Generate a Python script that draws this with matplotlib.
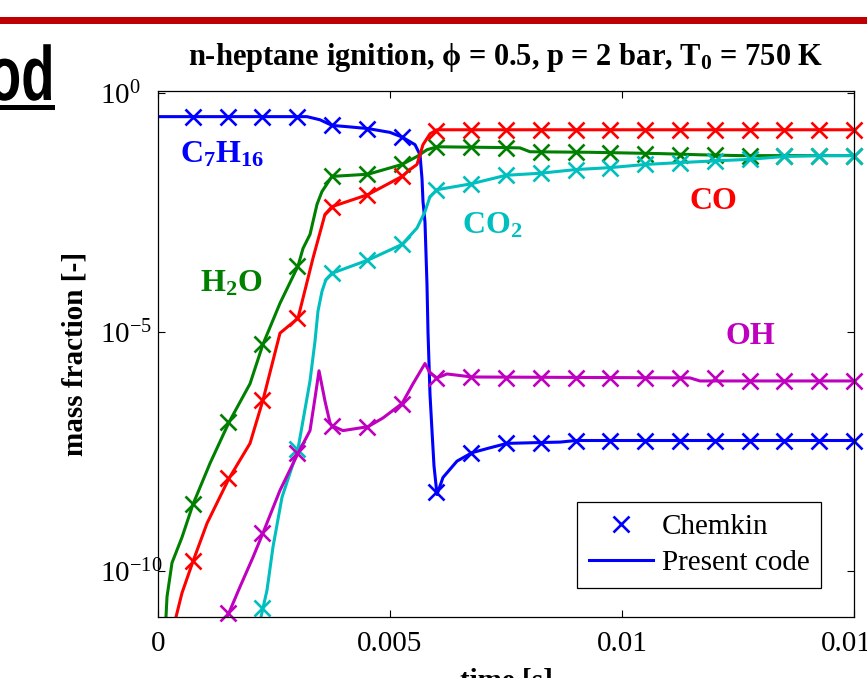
import matplotlib
matplotlib.use('Agg')
import matplotlib.pyplot as plt
from matplotlib.lines import Line2D
from matplotlib.patches import Rectangle, PathPatch
from matplotlib.textpath import TextPath
from matplotlib.font_manager import FontProperties
from matplotlib.transforms import Affine2D, IdentityTransform
from matplotlib.ticker import NullLocator

plt.rcParams['font.family'] = ['Liberation Serif', 'DejaVu Serif']
plt.rcParams['mathtext.fontset'] = 'custom'
plt.rcParams['mathtext.rm'] = 'Liberation Serif'
plt.rcParams['mathtext.bf'] = 'Liberation Serif:bold'
plt.rcParams['mathtext.it'] = 'Liberation Serif:italic'

# ── Chemkin (markers) ──
t_chemkin = [0.00075, 0.0015, 0.00225, 0.003, 0.00375, 0.0045, 0.00525, 0.006, 0.00675, 0.0075,
             0.00825, 0.009, 0.00975, 0.0105, 0.01125, 0.012, 0.01275, 0.0135, 0.01425, 0.015]
ck_c7h16 = [3.2e-1, 3.2e-1, 3.2e-1, 3.2e-1, 2.1e-1, 1.8e-1, 1.2e-1, 4.5e-9, 3.0e-8, 4.7e-8,
            4.9e-8, 5.4e-8, 5.4e-8, 5.4e-8, 5.4e-8, 5.4e-8, 5.4e-8, 5.4e-8, 5.4e-8, 5.4e-8]
ck_co = [1.6e-10, 8.7e-9, 3.8e-7, 1.95e-5, 4.2e-3, 7.5e-3, 1.8e-2, 1.6e-1, 1.7e-1, 1.7e-1,
         1.7e-1, 1.7e-1, 1.7e-1, 1.7e-1, 1.7e-1, 1.7e-1, 1.7e-1, 1.7e-1, 1.7e-1, 1.7e-1]
ck_h2o = [2.5e-9, 1.3e-7, 5.6e-6, 2.4e-4, 1.8e-2, 2.0e-2, 3.2e-2, 7.5e-2, 7.5e-2, 7.2e-2,
          5.9e-2, 5.9e-2, 5.6e-2, 5.4e-2, 5.1e-2, 5.1e-2, 4.9e-2, 4.9e-2, 4.9e-2, 4.9e-2]
ck_co2 = [None, None, 1.7e-11, 3.6e-8, 1.7e-4, 3.2e-4, 6.8e-4, 9.5e-3, 1.26e-2, 1.9e-2,
          2.1e-2, 2.5e-2, 2.75e-2, 3.2e-2, 3.5e-2, 3.8e-2, 4.1e-2, 4.7e-2, 4.9e-2, 4.9e-2]
ck_oh = [None, 1.35e-11, 6.3e-10, 2.9e-8, 1.1e-7, 1.05e-7, 3.2e-7, 1.1e-6, 1.15e-6, 1.1e-6,
         1.1e-6, 1.1e-6, 1.1e-6, 1.1e-6, 1.1e-6, 1.1e-6, 9.5e-7, 9.5e-7, 9.5e-7, 9.5e-7]

# ── Present code (lines) ──
t_c7h16 = [0, 0.003017, 0.003211, 0.003491, 0.00375, 0.004138, 0.004526, 0.005, 0.005259, 0.005539,
           0.005647, 0.00569, 0.005711, 0.005754, 0.005797, 0.005819, 0.005862, 0.005905, 0.005948,
           0.006013, 0.006142, 0.006444, 0.006767, 0.007155, 0.007522, 0.008254, 0.008664, 0.009009, 0.015]
y_c7h16 = [3.2e-1, 3.2e-1, 3.2e-1, 2.75e-1, 2.1e-1, 1.95e-1, 1.8e-1, 1.5e-1, 1.2e-1, 8.3e-2,
           5.1e-2, 1.6e-2, 5.4e-3, 2.0e-3, 1e-4, 1e-5, 5e-7, 8.7e-8, 1.6e-8,
           4.0e-9, 9.1e-9, 2.0e-8, 3.0e-8, 3.8e-8, 4.7e-8, 4.9e-8, 5.0e-8, 5.4e-8, 5.4e-8]

t_co = [0.000388, 0.000517, 0.000754, 0.001056, 0.00153, 0.001983, 0.002263, 0.002629, 0.003017,
        0.00334, 0.003599, 0.00375, 0.004526, 0.005259, 0.00543, 0.005582, 0.005711, 0.005862,
        0.006013, 0.015]
y_co = [1.1e-11, 3.5e-11, 1.6e-10, 1e-9, 8.7e-9, 4.7e-8, 3.8e-7, 9.5e-6, 1.95e-5,
        3.5e-4, 2.9e-3, 4.2e-3, 7.5e-3, 1.8e-2, 2.5e-2, 3.2e-2, 8.3e-2, 1.4e-1,
        1.7e-1, 1.7e-1]

t_h2o = [0.000172, 0.000194, 0.000302, 0.000517, 0.000754, 0.001121, 0.00153, 0.001983, 0.002263,
         0.002629, 0.003017, 0.003125, 0.003276, 0.003427, 0.003534, 0.00375, 0.004526, 0.005259,
         0.005582, 0.005797, 0.006013, 0.007522, 0.007802, 0.008017, 0.00931, 0.01082, 0.01168,
         0.01254, 0.015]
y_h2o = [1.1e-11, 2.9e-11, 1.5e-10, 5.1e-10, 2.5e-9, 1.8e-8, 1.3e-7, 8.3e-7, 5.6e-6,
         4e-5, 2.4e-4, 5.6e-4, 1.1e-3, 4.7e-3, 8.7e-3, 1.8e-2, 2.0e-2, 3.2e-2,
         4.7e-2, 6.5e-2, 7.5e-2, 7.2e-2, 7.1e-2, 5.9e-2, 5.75e-2, 5.4e-2, 5.1e-2,
         4.9e-2, 4.9e-2]

t_co2 = [0.00222, 0.002263, 0.002349, 0.002478, 0.002672, 0.003017, 0.003276, 0.003384, 0.003448,
         0.003534, 0.00362, 0.00375, 0.004526, 0.005259, 0.005582, 0.005754, 0.005862, 0.006013,
         0.00675, 0.0075, 0.00825, 0.009, 0.00975, 0.0105, 0.01125, 0.012, 0.01275, 0.0135,
         0.01425, 0.015]
y_co2 = [1.1e-11, 1.7e-11, 4e-11, 3.2e-10, 3.5e-9, 3.6e-8, 9.5e-7, 6.5e-6, 2.75e-5,
         7.1e-5, 1.26e-4, 1.7e-4, 3.2e-4, 6.8e-4, 1.5e-3, 3.3e-3, 6.8e-3, 9.5e-3,
         1.26e-2, 1.9e-2, 2.1e-2, 2.5e-2, 2.75e-2, 3.2e-2, 3.5e-2, 3.8e-2, 4.1e-2, 4.7e-2,
         4.9e-2, 4.9e-2]

t_oh = [0.001487, 0.00153, 0.001767, 0.002047, 0.002263, 0.002629, 0.003017, 0.003276, 0.003384,
        0.00347, 0.003599, 0.003707, 0.00375, 0.003987, 0.004526, 0.004849, 0.005259, 0.005496,
        0.005754, 0.005862, 0.006013, 0.006228, 0.006767, 0.011466, 0.01168, 0.015]
y_oh = [1.1e-11, 1.35e-11, 4.7e-11, 1.95e-10, 6.3e-10, 4.9e-9, 2.9e-8, 8.7e-8, 4.2e-7,
        1.55e-6, 3.6e-7, 1.26e-7, 1.1e-7, 8.7e-8, 1.05e-7, 1.6e-7, 3.2e-7, 8.3e-7,
        2.2e-6, 1.4e-6, 1.1e-6, 1.33e-6, 1.15e-6, 1.1e-6, 9.5e-7, 9.5e-7]

xtick_vals = [0, 0.005, 0.01, 0.015]
xtick_labels = ['0', '0.005', '0.01', '0.015']
ytick_vals = [1e-10, 1e-5, 1e0]
ytick_labels = [r'$\mathregular{10^{-10}}$', r'$\mathregular{10^{-5}}$', r'$\mathregular{10^{0}}$']

BLUE = (0, 0, 1)
RED = (1, 0, 0)
GREEN = (0, 0.5, 0)
CYAN = (0, 0.75, 0.75)
MAGENTA = (0.75, 0, 0.75)

W, H = 867, 678
fig = plt.figure(figsize=(W / 100, H / 100), dpi=100)
ax = fig.add_axes([158 / W, 1 - 617 / H, 696 / W, 526 / H])

series = [
    (t_c7h16, y_c7h16, ck_c7h16, BLUE),
    (t_h2o, y_h2o, ck_h2o, GREEN),
    (t_co, y_co, ck_co, RED),
    (t_co2, y_co2, ck_co2, CYAN),
    (t_oh, y_oh, ck_oh, MAGENTA),
]
for t_line, y_line, ck, col in series:
    ax.plot(t_line, y_line, '-', color=col, lw=2.2)
    pts = [(t, v) for t, v in zip(t_chemkin, ck) if v is not None]
    ax.plot([p[0] for p in pts], [p[1] for p in pts], 'x', color=col,
            ms=11, mew=1.9, clip_on=False)

ax.set_yscale('log')
ax.set_xlim(0, 0.015)
ax.set_ylim(1.1e-11, 1.1)
ax.yaxis.set_minor_locator(NullLocator())
ax.set_xticks(xtick_vals, labels=xtick_labels)
ax.set_yticks(ytick_vals, labels=ytick_labels, ha='left')
ax.tick_params(direction='in', length=5, width=0.8, top=True, right=True, labelsize=21)
ax.tick_params(axis='y', pad=42)
ax.tick_params(axis='x', pad=10)
for sp in ax.spines.values():
    sp.set_linewidth(0.9)

ax.set_title(r'n-heptane ignition, ϕ = 0.5, p = 2 bar, $\mathbf{T_0}$ = 750 K',
             fontsize=22, fontweight='bold', pad=19)
ax.set_ylabel('mass fraction [-]', fontsize=21, fontweight='bold', labelpad=8)
ax.set_xlabel('time [s]', fontsize=21, fontweight='bold', labelpad=8)

# species labels
lbl_kw = dict(transform=ax.transAxes, fontsize=23, fontweight='bold', va='baseline', ha='left')
ax.text(0.0316, 0.865, r'$\mathbf{C_7H_{16}}$', color=BLUE, **lbl_kw)
ax.text(0.0603, 0.618, r'$\mathbf{H_2O}$', color=GREEN, **lbl_kw)
ax.text(0.4368, 0.730, r'$\mathbf{CO_2}$', color=CYAN, **lbl_kw)
ax.text(0.763, 0.776, 'CO', color=RED, **lbl_kw)
ax.text(0.816, 0.519, 'OH', color=MAGENTA, **lbl_kw)

# legend
handles = [Line2D([], [], ls='none', marker='x', color=BLUE, ms=11, mew=1.9),
           Line2D([], [], ls='-', color=BLUE, lw=2.2)]
leg = ax.legend(handles, ['Chemkin', 'Present code'], loc='lower right',
                bbox_to_anchor=(0.9526, 0.0551), borderaxespad=0, fontsize=21,
                fancybox=False, framealpha=1, edgecolor='black', handlelength=2.2,
                handletextpad=0.3, borderpad=0.4, labelspacing=0.35)
leg.get_frame().set_linewidth(0.9)

# slide decorations: red rule and cropped heading
fig.add_artist(Rectangle((0, 1 - 24 / H), 1, 7 / H, transform=fig.transFigure,
                         color='#C00000', lw=0))
tp = TextPath((0, 0), 'thod', size=77, prop=FontProperties(family='Liberation Sans', weight='bold'))
ext = tp.get_extents()
sx = 0.71
tr = Affine2D().scale(sx, 1).translate(51 - ext.x1 * sx, H - 100)
fig.add_artist(PathPatch(tr.transform_path(tp), transform=IdentityTransform(),
                         color='black', lw=0))
fig.add_artist(Rectangle((0, 1 - 110 / H), 55 / W, 5 / H, transform=fig.transFigure,
                         color='black', lw=0))

fig.savefig('out.png', dpi=100)
